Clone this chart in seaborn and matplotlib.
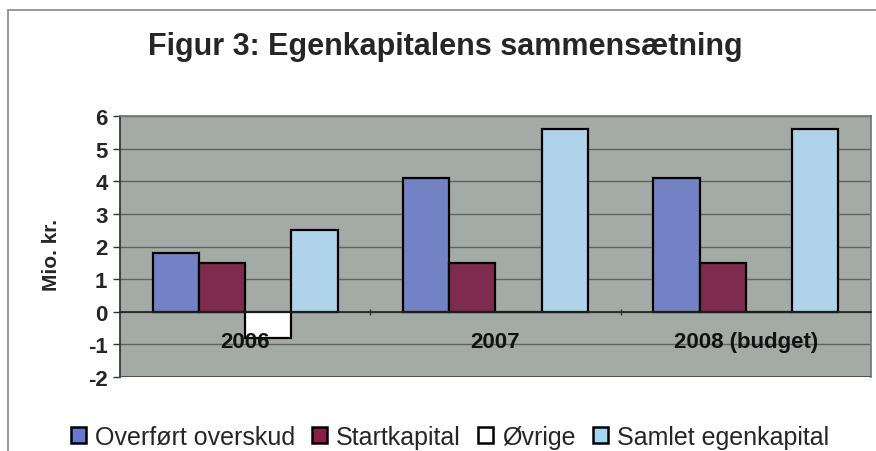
import matplotlib
matplotlib.use("Agg")
import matplotlib.pyplot as plt
import seaborn as sns
import pandas as pd
from matplotlib.patches import Rectangle

categories = ["2006", "2007", "2008 (budget)"]
series = ["Overført overskud", "Startkapital", "Øvrige", "Samlet egenkapital"]
overfoert = [1.8, 4.1, 4.1]
startkapital = [1.5, 1.5, 1.5]
oevrige = [-0.8, 0.0, 0.0]
samlet = [2.5, 5.6, 5.6]
yticks = [-2, -1, 0, 1, 2, 3, 4, 5, 6]
colors = ["#6679d2", "#8c1d4b", "#ffffff", "#a4d6f4"]

rows = []
for s, vals in zip(series, [overfoert, startkapital, oevrige, samlet]):
    for c, v in zip(categories, vals):
        rows.append({"cat": c, "serie": s, "value": v})
df = pd.DataFrame(rows)

sns.set_theme(style="white")
plt.rcParams["font.family"] = ["Liberation Sans", "DejaVu Sans"]

fig = plt.figure(figsize=(8.76, 4.52), dpi=100)
ax = fig.add_axes([120/876, 1-378/452, (871-120)/876, (378-117)/452])
ax.set_facecolor("#a4aba7")

sns.barplot(data=df, x="cat", y="value", hue="serie", hue_order=series,
            palette=colors, order=categories, width=0.74,
            edgecolor="black", linewidth=1.6, ax=ax, legend=False, zorder=3)

ax.set_ylim(-2, 6)
ax.set_xlim(-0.5, 2.5)
ax.set_yticks(yticks)
ax.set_yticklabels([str(t) for t in yticks], fontsize=16, fontweight="bold")
ax.yaxis.grid(True, color="#5e6460", linewidth=1.0, zorder=1)
ax.set_axisbelow(True)
ax.tick_params(axis="y", length=5, width=1, color="#333333", pad=4, left=True)
ax.spines["left"].set_color("#333333")
ax.spines["top"].set_color("#777777")
ax.spines["right"].set_color("#777777")
ax.spines["bottom"].set_position(("data", 0))
ax.spines["bottom"].set_color("#222222")
ax.spines["bottom"].set_zorder(4)
ax.set_xlabel("")
ax.set_ylabel("Mio. kr.", fontsize=15, fontweight="bold")
ax.yaxis.set_label_coords(-0.078, 0.47)
ax.set_xticks([0, 1, 2])
ax.set_xticklabels(categories, fontsize=16, fontweight="bold", color="#111111")
ax.tick_params(axis="x", length=0, pad=14)
ax.set_xticks([0.5, 1.5], minor=True)
ax.tick_params(axis="x", which="minor", length=4, color="#333333", direction="inout", bottom=True)
ax.xaxis.set_zorder(6)

# bottom frame line of plot area
ax.axhline(-2, color="#444444", linewidth=1.2, zorder=5)

fig.text(445/876, 1-47/452, "Figur 3: Egenkapitalens sammensætning",
         ha="center", va="center", fontsize=22, fontweight="bold")

handles = [Rectangle((0, 0), 1, 1, facecolor=c, edgecolor="black", linewidth=1.8) for c in colors]
fig.legend(handles, series, loc="center", bbox_to_anchor=(450/876, 1-438/452), ncol=4,
           frameon=False, fontsize=18, handlelength=0.6, handleheight=0.6,
           handletextpad=0.35, columnspacing=0.7)

# outer chart border
fig.add_artist(plt.Line2D([8/876, 8/876], [0, 1-11/452], transform=fig.transFigure, color="#888888", linewidth=1.2))
fig.add_artist(plt.Line2D([8/876, 1], [1-11/452, 1-11/452], transform=fig.transFigure, color="#888888", linewidth=1.2))

fig.savefig("out.png", dpi=100)
